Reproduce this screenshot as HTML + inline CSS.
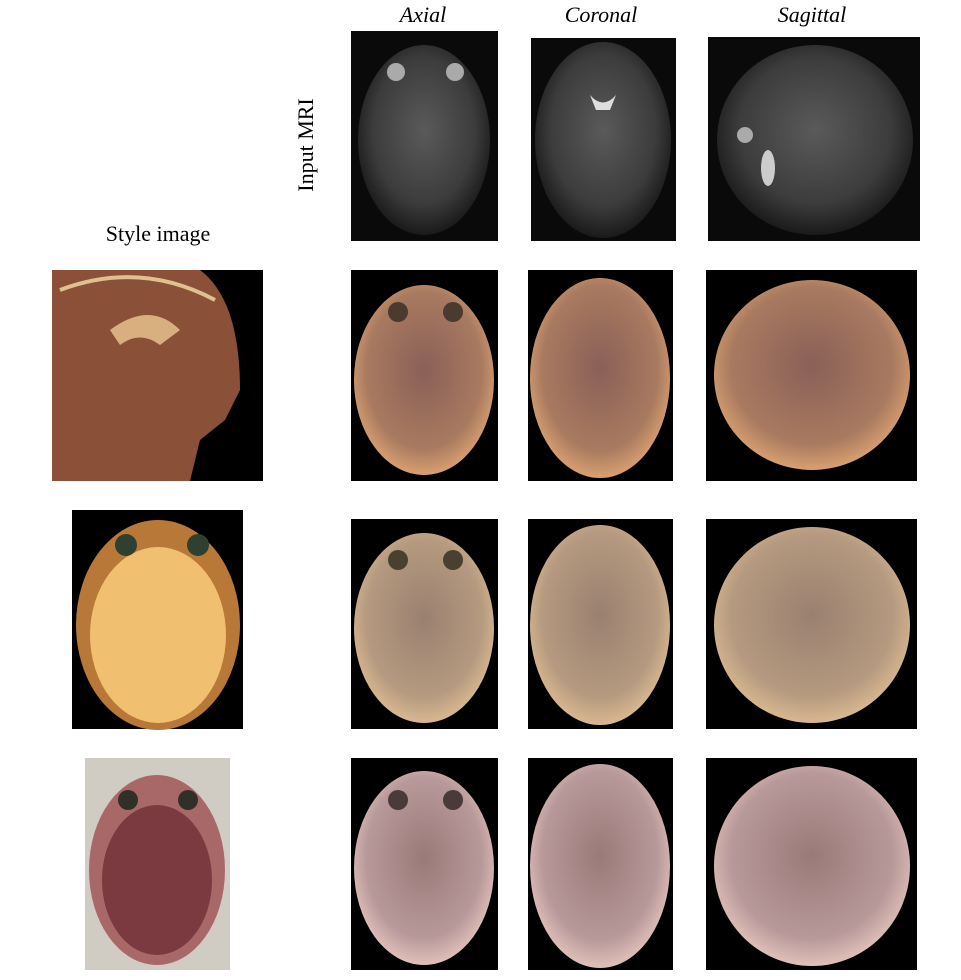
<!DOCTYPE html>
<html><head><meta charset="utf-8"><style>
html,body{margin:0;padding:0;background:#fff;width:961px;height:980px;overflow:hidden}
svg{display:block}
text{font-family:"Liberation Serif",serif;fill:#000}
</style></head><body>
<svg width="961" height="980" viewBox="0 0 961 980">
<defs>
<radialGradient id="gMri" cx="50%" cy="45%" r="55%"><stop offset="0" stop-color="#5a5a5a"/><stop offset="0.7" stop-color="#3c3c3c"/><stop offset="1" stop-color="#1a1a1a"/></radialGradient>
<radialGradient id="gS1" cx="50%" cy="45%" r="55%"><stop offset="0" stop-color="#8a6058"/><stop offset="0.75" stop-color="#a87a60"/><stop offset="1" stop-color="#d9a070"/></radialGradient>
<radialGradient id="gS2" cx="50%" cy="45%" r="55%"><stop offset="0" stop-color="#9a8070"/><stop offset="0.75" stop-color="#b59a80"/><stop offset="1" stop-color="#d9b890"/></radialGradient>
<radialGradient id="gS3" cx="50%" cy="45%" r="55%"><stop offset="0" stop-color="#9a7a78"/><stop offset="0.75" stop-color="#b8999a"/><stop offset="1" stop-color="#e0c0b8"/></radialGradient>
</defs>

<text x="423" y="22" font-size="22" font-style="italic" text-anchor="middle">Axial</text>
<text x="601" y="22" font-size="22" font-style="italic" text-anchor="middle">Coronal</text>
<text x="812" y="22" font-size="22" font-style="italic" text-anchor="middle">Sagittal</text>
<text x="0" y="0" font-size="22" text-anchor="middle" transform="translate(313,145) rotate(-90)">Input MRI</text>
<text x="158" y="241" font-size="22" text-anchor="middle">Style image</text>

<!-- Row 1: input MRI -->
<g><rect x="351" y="31" width="147" height="210" fill="#0a0a0a"/><ellipse cx="424" cy="140" rx="66" ry="95" fill="url(#gMri)"/><circle cx="396" cy="72" r="9" fill="#aaa"/><circle cx="455" cy="72" r="9" fill="#aaa"/></g>
<g><rect x="531" y="38" width="145" height="203" fill="#0a0a0a"/><ellipse cx="603" cy="140" rx="68" ry="98" fill="url(#gMri)"/><path d="M590 95 Q603 110 616 95 L610 110 L596 110Z" fill="#ddd"/></g>
<g><rect x="708" y="37" width="212" height="204" fill="#0a0a0a"/><ellipse cx="815" cy="140" rx="98" ry="95" fill="url(#gMri)"/><circle cx="745" cy="135" r="8" fill="#aaa"/><ellipse cx="768" cy="168" rx="7" ry="18" fill="#ccc"/></g>

<!-- Row 2 -->
<g><rect x="52" y="270" width="211" height="211" fill="#000"/><path d="M52 270 L200 270 Q240 300 240 390 L225 420 L200 440 L190 481 L52 481Z" fill="#8a5038"/><path d="M110 330 Q150 300 180 330 L160 345 Q140 330 120 345Z" fill="#d8b080"/><path d="M60 290 Q140 260 215 300" stroke="#e0c090" stroke-width="4" fill="none"/></g>
<g><rect x="351" y="270" width="147" height="211" fill="#000"/><ellipse cx="424" cy="380" rx="70" ry="95" fill="url(#gS1)"/><circle cx="398" cy="312" r="10" fill="#4a3a30"/><circle cx="453" cy="312" r="10" fill="#4a3a30"/></g>
<g><rect x="528" y="270" width="145" height="211" fill="#000"/><ellipse cx="600" cy="378" rx="70" ry="100" fill="url(#gS1)"/></g>
<g><rect x="706" y="270" width="211" height="211" fill="#000"/><ellipse cx="812" cy="375" rx="98" ry="95" fill="url(#gS1)"/></g>

<!-- Row 3 -->
<g><rect x="72" y="510" width="171" height="219" fill="#000"/><ellipse cx="158" cy="625" rx="82" ry="105" fill="#b87838"/><ellipse cx="158" cy="635" rx="68" ry="88" fill="#f0c070"/><circle cx="126" cy="545" r="11" fill="#304030"/><circle cx="198" cy="545" r="11" fill="#304030"/></g>
<g><rect x="351" y="519" width="147" height="210" fill="#000"/><ellipse cx="424" cy="628" rx="70" ry="95" fill="url(#gS2)"/><circle cx="398" cy="560" r="10" fill="#4a4030"/><circle cx="453" cy="560" r="10" fill="#4a4030"/></g>
<g><rect x="528" y="519" width="145" height="210" fill="#000"/><ellipse cx="600" cy="625" rx="70" ry="100" fill="url(#gS2)"/></g>
<g><rect x="706" y="519" width="211" height="210" fill="#000"/><ellipse cx="812" cy="625" rx="98" ry="98" fill="url(#gS2)"/></g>

<!-- Row 4 -->
<g><rect x="85" y="758" width="145" height="212" fill="#d0ccc4"/><ellipse cx="157" cy="870" rx="68" ry="95" fill="#a86868"/><ellipse cx="157" cy="880" rx="55" ry="75" fill="#7a3a40"/><circle cx="128" cy="800" r="10" fill="#303028"/><circle cx="188" cy="800" r="10" fill="#303028"/></g>
<g><rect x="351" y="758" width="147" height="212" fill="#000"/><ellipse cx="424" cy="868" rx="70" ry="97" fill="url(#gS3)"/><circle cx="398" cy="800" r="10" fill="#4a3a3a"/><circle cx="453" cy="800" r="10" fill="#4a3a3a"/></g>
<g><rect x="528" y="758" width="145" height="212" fill="#000"/><ellipse cx="600" cy="866" rx="70" ry="102" fill="url(#gS3)"/></g>
<g><rect x="706" y="758" width="211" height="212" fill="#000"/><ellipse cx="812" cy="866" rx="98" ry="100" fill="url(#gS3)"/></g>
</svg>
</body></html>
